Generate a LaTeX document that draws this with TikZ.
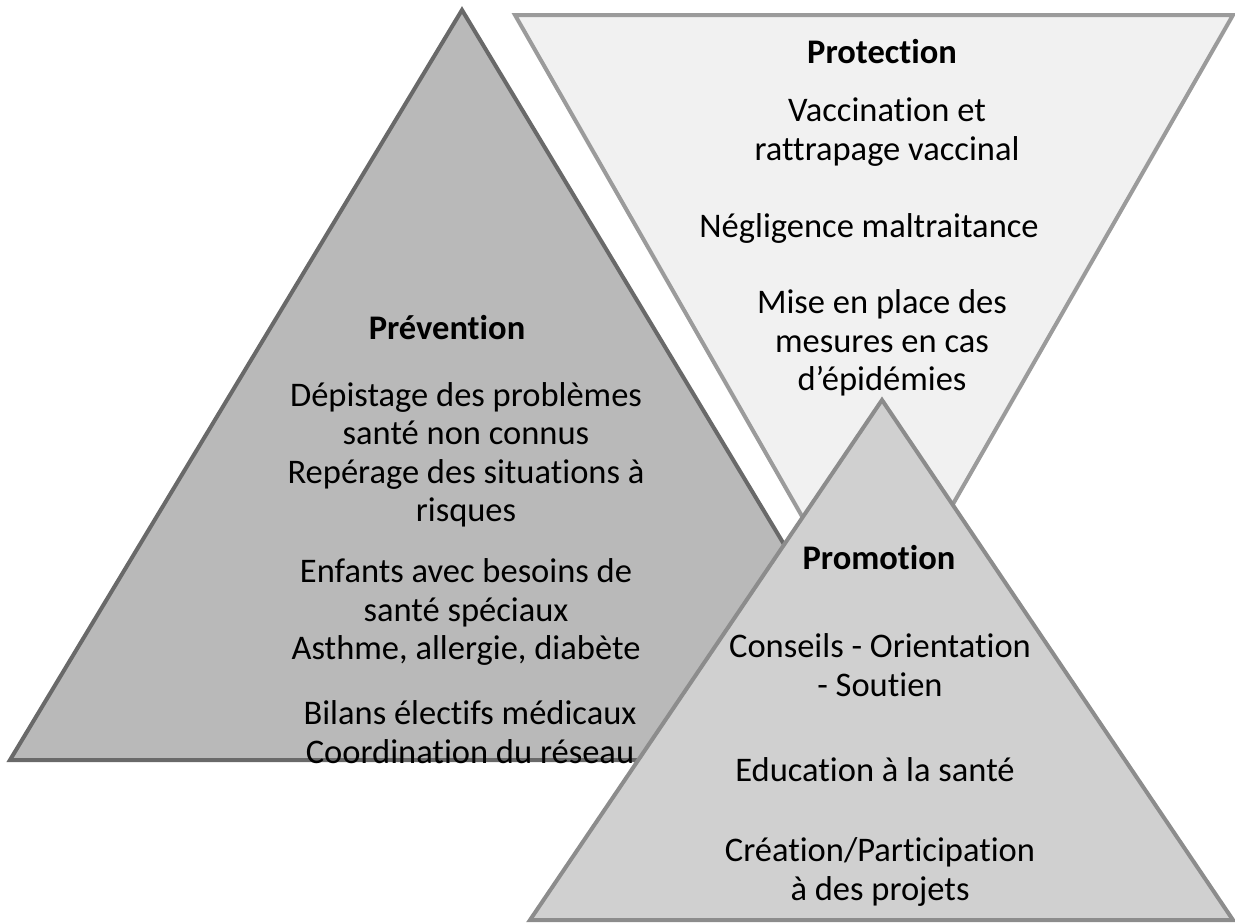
\documentclass[tikz,border=0pt]{standalone}
\usepackage{fontspec}
\setmainfont[Ligatures=NoCommon]{Carlito}
\usetikzlibrary{positioning}

\definecolor{prevfill}{RGB}{185,185,185}
\definecolor{prevline}{RGB}{105,105,105}
\definecolor{protfill}{RGB}{241,241,241}
\definecolor{protline}{RGB}{155,155,155}
\definecolor{promfill}{RGB}{208,208,208}
\definecolor{promline}{RGB}{140,140,140}

\tikzset{
  tri/.style={line width=4pt, line join=miter},
  txt/.style={align=center, inner sep=0pt, font=\fontsize{34.5}{38.5}\selectfont},
  head/.style={align=center, inner sep=0pt, font=\fontsize{34.5}{38.5}\selectfont\bfseries}
}

\begin{document}
\begin{tikzpicture}[x=1pt,y=-1pt]
	\useasboundingbox (0,0) rectangle (1235,922);

	% corners
	\coordinate (prevtop) at (462,10); \coordinate (prevleft) at (10,760); \coordinate (prevright) at (914,760);
	\coordinate (protleft) at (515,15); \coordinate (protright) at (1233,15); \coordinate (protbot) at (874,642);
	\coordinate (promtop) at (882,400); \coordinate (promleft) at (530,920); \coordinate (promright) at (1233,920);

	% triangles
	\draw[tri, draw=prevline, fill=prevfill] (prevtop) -- (prevright) -- (prevleft) -- cycle;
	\draw[tri, draw=protline, fill=protfill] (protleft) -- (protright) -- (protbot) -- cycle;
	\draw[tri, draw=promline, fill=promfill] (promtop) -- (promright) -- (promleft) -- cycle;

	% Prévention
	\node[head] (prevtitle) at (447,328) {Prévention};
	\node[txt] (prevone) at (466,455) {Dépistage des problèmes\\santé non connus\\Repérage des situations à\\risques};
	\node[txt] (prevtwo) at (466,612) {Enfants avec besoins de\\santé spéciaux\\Asthme, allergie, diabète};
	\node[txt] (prevthree) at (470,732) {Bilans électifs médicaux\\Coordination du réseau};

	% Protection
	\node[head] (prottitle) at (882,52) {Protection};
	\node[txt] (protone) at (887,132) {Vaccination et\\rattrapage vaccinal};
	\node[txt] (prottwo) at (869,228) {Négligence maltraitance};
	\node[txt] (protthree) at (882,343) {Mise en place des\\mesures en cas\\d’épidémies};

	% Promotion
	\node[head] (promtitle) at (879,558) {Promotion};
	\node[txt] (promone) at (880,665) {Conseils - Orientation\\- Soutien};
	\node[txt] (promtwo) at (875,770) {Education à la santé};
	\node[txt] (promthree) at (880,872) {Création/Participation\\à des projets};
\end{tikzpicture}
\end{document}
